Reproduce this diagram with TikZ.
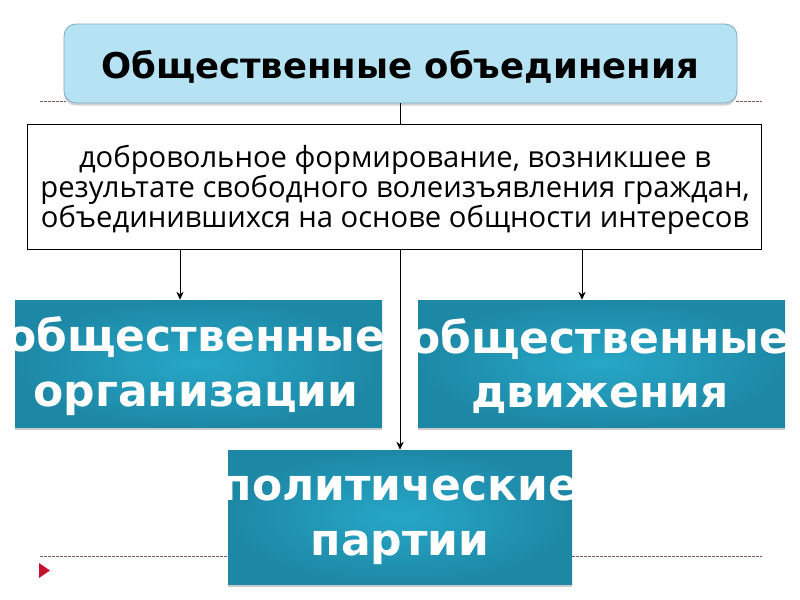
\documentclass[tikz,border=0pt]{standalone}
\usepackage{fontspec}
\setmainfont{DejaVu Sans}
\newfontfamily\deffont{Open Sans}
\usetikzlibrary{arrows.meta,shadows}
\definecolor{topfill}{HTML}{B5E3F3}
\definecolor{topdraw}{HTML}{7FA9BF}
\definecolor{tealin}{HTML}{27A7C7}
\definecolor{tealout}{HTML}{1D88A6}
\definecolor{dashcol}{HTML}{7A5A5A}
\definecolor{redtri}{HTML}{C8102E}
\tikzset{
  topbox/.style={draw=topdraw, line width=0.6pt, fill=topfill, rounded corners=9pt,
    minimum width=504.75pt, minimum height=59.25pt, inner sep=0pt,
    drop shadow={opacity=0.35, shadow xshift=0pt, shadow yshift=-2pt}},
  toptext/.style={inner sep=0pt, font=\fontsize{26.6}{30}\selectfont\bfseries},
  defbox/.style={draw=black, line width=0.6pt, fill=white, minimum width=550.5pt,
    minimum height=93.75pt, inner sep=0pt},
  deftext/.style={inner sep=0pt, align=center,
    font=\deffont\fontsize{21.9}{22.5}\selectfont},
  tealbox/.style={shade, inner color=tealin, outer color=tealout, minimum width=275.25pt,
    minimum height=95.25pt, inner sep=0pt,
    drop shadow={opacity=0.35, shadow xshift=0pt, shadow yshift=-2.5pt, fill=black!60}},
  tealtext/.style={text=white, align=center, inner sep=0pt,
    font=\fontsize{33}{41}\selectfont\bfseries},
  arr/.style={draw=black, line width=0.6pt, -{Stealth[length=6pt,width=5.5pt]}},
  conn/.style={draw=black, line width=0.6pt},
  dline/.style={draw=dashcol, line width=0.5pt, dash pattern=on 2.2pt off 0.8pt},
}
\begin{document}
\begin{tikzpicture}[x=0.75pt,y=-0.75pt]
\useasboundingbox (0,0) rectangle (800,600);
% dashed guide lines
\draw[dline] (40,101) -- (66,101);
\draw[dline] (736,101) -- (762,101);
\draw[dline] (40,556) -- (762,556);
\fill[redtri] (39,563) -- (50,570.5) -- (39,578) -- cycle;
% top box
\node[topbox] (top) at (400.5,63.5) {};
\node[toptext] (topt) at (400,67) {Общественные объединения};
% definition box
\node[defbox] (def) at (394,186.5) {};
\node[deftext] (deft) at (395,189.5) {добровольное формирование, возникшее в\\
результате свободного волеизъявления граждан,\\
объединившихся на основе общности интересов};
% teal boxes
\node[tealbox] (org) at (198.5,363.5) {};
\node[tealtext] (orgt) at (196,366) {общественные\\организации};
\node[tealbox] (mov) at (601.5,363.5) {};
\node[tealtext] (movt) at (600,366) {общественные\\движения};
\node[tealbox, minimum width=258pt, minimum height=100.5pt] (par) at (400,517) {};
\node[tealtext] (part) at (400,520) {политические\\партии};
% connectors
\coordinate (c1) at (180,249);
\coordinate (c2) at (582,249);
\draw[conn] (top.south) -- (top.south |- def.north);
\draw[arr] (c1) -- (c1 |- org.north);
\draw[arr] (c2) -- (c2 |- mov.north);
\draw[arr] (def.south -| par.north) -- (par.north);
\end{tikzpicture}
\end{document}
